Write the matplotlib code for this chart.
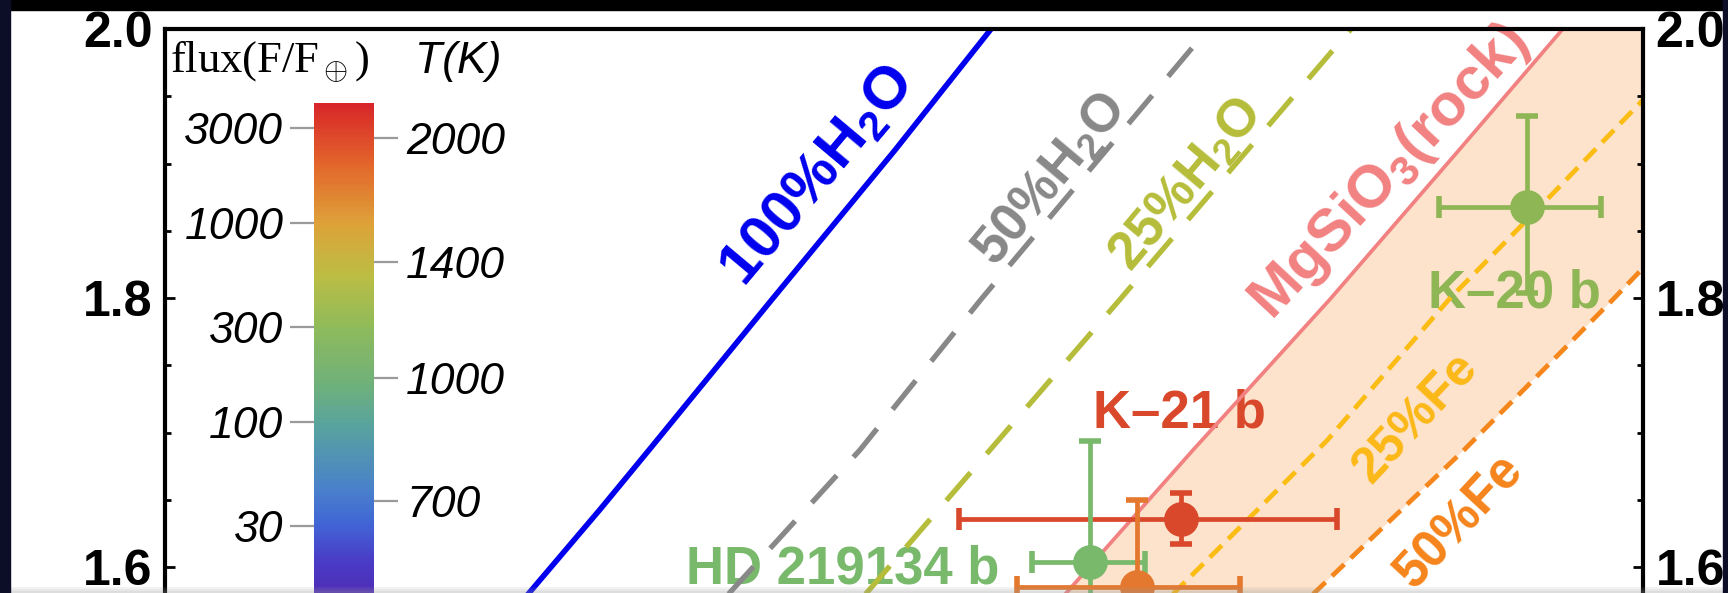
import numpy as np
import matplotlib.pyplot as plt
from matplotlib.colors import LinearSegmentedColormap, LogNorm
from matplotlib.patches import Rectangle
from matplotlib.ticker import MultipleLocator, NullLocator

plt.rcParams['font.family'] = ['Liberation Sans', 'DejaVu Sans']
plt.rcParams['mathtext.fontset'] = 'custom'
plt.rcParams['mathtext.rm'] = 'Liberation Sans'
plt.rcParams['mathtext.bf'] = 'Liberation Sans:bold'
plt.rcParams['mathtext.it'] = 'Liberation Sans:italic'

# composition curves: mass (Earth masses) vs radius (Earth radii)
h2o100_m = [1.55, 1.776, 1.942, 2.433, 3.048, 3.67]
h2o100_r = [1.578, 1.643, 1.687, 1.799, 1.910, 2.005]
h2o50_m = [2.237, 2.858, 3.568, 5.408]
h2o50_r = [1.578, 1.687, 1.799, 2.000]
h2o25_m = [2.858, 3.627, 4.603, 7.028]
h2o25_r = [1.575, 1.687, 1.799, 2.000]
rock_m = [4.124, 5.262, 6.762, 8.566, 10.36]
rock_r = [1.5755, 1.687, 1.799, 1.910, 2.000]
fe25_m = [5.017, 6.725, 8.410, 10.06, 12.05]
fe25_r = [1.5755, 1.694, 1.799, 1.873, 1.949]
fe50_m = [6.483, 8.645, 11.36, 12.05]
fe50_r = [1.5755, 1.687, 1.799, 1.824]

# planets
planet_m = [9.70, 5.15, 4.36, 4.75]
planet_m_lo = [1.44, 1.72, 0.44, 0.94]
planet_m_hi = [1.41, 1.70, 0.46, 0.98]
planet_r = [1.868, 1.636, 1.604, 1.585]
planet_r_lo = [0.064, 0.019, 0.090, 0.064]
planet_r_hi = [0.067, 0.019, 0.090, 0.065]
planet_colors = ['#8fb655', '#d9482a', '#79b96c', '#e3782e']

# colour bar
flux_ticks = [30, 100, 300, 1000, 3000]
temp_ticks = [500, 700, 1000, 1400, 2000]
cmap_flux = [3, 10, 20, 30, 45, 100, 150, 300, 550, 1000, 2000, 4000]
cmap_cols = ['#3a1a8c', '#5121a9', '#4a3cc6', '#4163d5', '#4880cc', '#5aa59b',
             '#6eb07c', '#8fbb5a', '#bcbd44', '#dea239', '#e3652b', '#d8262a']

W, H = 1728, 593
fig = plt.figure(figsize=(W / 100, H / 100), dpi=100)
fig.patch.set_facecolor('white')

ax = fig.add_axes([165 / W, 0.9511 - 1.1341, 1478 / W, 1.1341])
ax.set_xscale('log')

# shaded rocky/iron region
ax.fill(rock_m + [12.5, 12.5] + fe50_m[::-1], rock_r + [2.05, 1.824] + fe50_r[::-1],
        color='#fde3cb', lw=0, zorder=0.5)

ax.plot(h2o100_m, h2o100_r, color='#0000ee', lw=4, zorder=2)
ax.plot(h2o50_m, h2o50_r, color='#888888', lw=3.8, ls=(0, (7, 4.7)), zorder=2)
ax.plot(h2o25_m, h2o25_r, color='#b6bd3a', lw=3.8, ls=(0, (7, 4.7)), zorder=2)
ax.plot(rock_m, rock_r, color='#f28282', lw=2.7, zorder=2)
ax.plot(fe25_m, fe25_r, color='#fbbc14', lw=3.4, ls=(0, (3.6, 1.9)), zorder=2)
ax.plot(fe50_m, fe50_r, color='#f5861c', lw=3.4, ls=(0, (3.6, 1.9)), zorder=2)

for i in range(len(planet_m)):
    ax.errorbar(planet_m[i], planet_r[i],
                xerr=[[planet_m_lo[i]], [planet_m_hi[i]]],
                yerr=[[planet_r_lo[i]], [planet_r_hi[i]]],
                fmt='o', ms=24, color=planet_colors[i], elinewidth=3.4,
                capsize=8, capthick=4, zorder=3)

# curve labels
ax.text(2.647, 1.8907, r'100%H$_\mathbf{2}$O', color='#0000ee', fontsize=43,
        fontweight='bold', rotation=50, ha='center', va='center', rotation_mode='anchor', zorder=1)
ax.text(4.057, 1.8877, r'50%H$_\mathbf{2}$O', color='#888888', fontsize=38,
        fontweight='bold', rotation=50, ha='center', va='center', rotation_mode='anchor', zorder=1)
ax.text(5.204, 1.884, r'25%H$_\mathbf{2}$O', color='#b6bd3a', fontsize=38,
        fontweight='bold', rotation=50, ha='center', va='center', rotation_mode='anchor', zorder=1)
ax.text(7.549, 1.8937, r'MgSiO$_\mathbf{3}$(rock)', color='#f28282', fontsize=43,
        fontweight='bold', rotation=47, ha='center', va='center', rotation_mode='anchor', zorder=1)
ax.text(7.917, 1.7108, '25%Fe', color='#fbb817', fontsize=36,
        fontweight='bold', rotation=47, ha='center', va='center', rotation_mode='anchor', zorder=1)
ax.text(8.582, 1.6335, '50%Fe', color='#f5841c', fontsize=37,
        fontweight='bold', rotation=47, ha='center', va='center', rotation_mode='anchor', zorder=1)

# planet labels
ax.text(9.49, 1.8037, 'K–20 b', color='#8fb655', fontsize=38, fontweight='bold',
        ha='center', va='center', zorder=1)
ax.text(5.128, 1.7145, 'K–21 b', color='#d9482a', fontsize=38, fontweight='bold',
        ha='center', va='center', zorder=1)
ax.text(2.771, 1.5985, 'HD 219134 b', color='#79b96c', fontsize=38, fontweight='bold',
        ha='center', va='center', zorder=1)

ax.tick_params(axis='x', which='both', bottom=False, top=False, labelbottom=False)
ax.tick_params(axis='y', which='both', direction='in', left=True, right=True,
               labelleft=True, labelright=True, width=2, pad=9)
ax.tick_params(axis='y', which='major', length=7)
ax.tick_params(axis='y', which='minor', length=4)
ax.set_yticks([1.6, 1.8, 2.0], labels=['1.6', '1.8', '2.0'],
              fontweight='bold', fontsize=36)
ax.yaxis.set_minor_locator(MultipleLocator(0.05))
ax.set_xlim(0.8, 12)
ax.set_ylim(1.5, 2.0)
for s in ax.spines.values():
    s.set_linewidth(3)

# colour bar inset
vmin, vmax = 3, 4000
pos = [(np.log10(f) - np.log10(vmin)) / (np.log10(vmax) - np.log10(vmin)) for f in cmap_flux]
cmap = LinearSegmentedColormap.from_list('fluxmap', list(zip(pos, cmap_cols)))
cb_h = 199 * np.log10(vmax / vmin) / H
cax = fig.add_axes([314 / W, (1 - 103 / H) - cb_h, 60 / W, cb_h])
cax.set_yscale('log')
edges = np.geomspace(vmin, vmax, 401)
cax.pcolormesh([0, 1], edges, np.sqrt(edges[:-1] * edges[1:])[:, None],
               cmap=cmap, norm=LogNorm(vmin, vmax), shading='flat')
for s in cax.spines.values():
    s.set_visible(False)
cax.tick_params(axis='x', bottom=False, labelbottom=False)
cax.set_yticks(flux_ticks, labels=[str(v) for v in flux_ticks], fontstyle='italic', fontsize=32)
cax.yaxis.set_minor_locator(NullLocator())
cax.tick_params(axis='y', direction='out', length=17, width=1.6, color='#9a9a9a', pad=5)
cax.set_ylim(vmin, vmax)
cax.set_xlim(0, 1)

tax = cax.twinx()
tax.set_yscale('log')
tax.set_yticks([(t / 278.6) ** 4 for t in temp_ticks], labels=[str(t) for t in temp_ticks],
               fontstyle='italic', fontsize=32)
tax.yaxis.set_minor_locator(NullLocator())
tax.tick_params(axis='y', direction='out', length=17, width=1.6, color='#9a9a9a', pad=6)
tax.set_ylim(vmin, vmax)
for s in tax.spines.values():
    s.set_visible(False)

fig.text(170 / W, 1 - 62 / H, r'flux(F/F$_\oplus$)', family='Liberation Serif', fontsize=32,
         ha='left', va='center')
fig.text(458 / W, 1 - 62 / H, 'T(K)', fontstyle='italic', fontsize=32, ha='center', va='center')

# dark slide border around the figure
fig.add_artist(Rectangle((0, 1 - 10 / H), 1, 10 / H, transform=fig.transFigure,
                         color='black', zorder=10))
fig.add_artist(Rectangle((0, 0), 10 / W, 1, transform=fig.transFigure,
                         color='#0b0e26', zorder=10))
fig.add_artist(Rectangle((1723 / W, 0), 5 / W, 1, transform=fig.transFigure,
                         color='#0b0e26', zorder=10))
for hh in [2, 4, 6]:
    fig.add_artist(Rectangle((10 / W, 0), 1713 / W, hh / H, transform=fig.transFigure,
                             color='#9a9a9a', alpha=0.12, lw=0, zorder=9))

fig.savefig('out.png', dpi=100, facecolor=fig.get_facecolor())
